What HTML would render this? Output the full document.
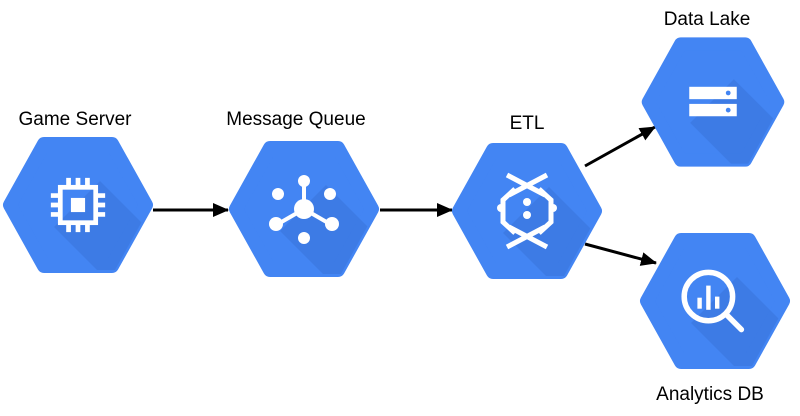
<!DOCTYPE html>
<html><head><style>
html,body{margin:0;padding:0;background:#fff;width:800px;height:416px;overflow:hidden}
text{font-family:"Liberation Sans",Arial,sans-serif;font-size:19px;fill:#000}
</style></head><body>
<svg width="800" height="416" viewBox="0 0 800 416" xmlns="http://www.w3.org/2000/svg">
<defs>
<clipPath id="hx"><polygon points="-73,0 -37,-65 37,-65 73,0 37,65 -37,65"/></clipPath>
<g id="hex">
<polygon points="-68,0 -34,-61 34,-61 68,0 34,61 -34,61" fill="#4385f3" stroke="#4385f3" stroke-width="14" stroke-linejoin="round"/>
</g>
<g id="sh"><polygon clip-path="url(#hx)" points="22,-24 120,74 74,120 -24,22" fill="#1a3a8a" opacity="0.13"/></g>
<marker id="ar" markerWidth="16" markerHeight="14" refX="15" refY="7" orient="auto" markerUnits="userSpaceOnUse" viewBox="0 0 16 14"><path d="M0,0 L16,7 L0,14 z" fill="#000"/></marker>
</defs>

<g stroke="#000" stroke-width="3" fill="none">
<line x1="153" y1="210" x2="228" y2="210" marker-end="url(#ar)"/>
<line x1="380" y1="210" x2="452" y2="210" marker-end="url(#ar)"/>
<line x1="585" y1="166" x2="655" y2="127" marker-end="url(#ar)"/>
<line x1="585" y1="244" x2="656" y2="263" marker-end="url(#ar)"/>
</g>

<!-- Game Server -->
<g transform="translate(78,205)">
<use href="#hex"/><use href="#sh"/>
<g transform="scale(1.18)">
<g fill="none" stroke="#fff" stroke-width="4">
<rect x="-15" y="-15" width="30" height="30"/>
<path d="M-8,-15v-8M0,-15v-8M8,-15v-8M-8,15v8M0,15v8M8,15v8M-15,-8h-8M-15,0h-8M-15,8h-8M15,-8h8M15,0h8M15,8h8"/>
</g>
<rect x="-6" y="-6" width="12" height="12" fill="#fff"/>
</g>
</g>

<!-- Message Queue -->
<g transform="translate(304,209)" fill="#fff">
<use href="#hex"/><use href="#sh"/>
<g stroke="#fff" stroke-width="4"><line x1="0" y1="0" x2="0" y2="-26"/><line x1="0" y1="0" x2="-26" y2="15"/><line x1="0" y1="0" x2="26" y2="15"/></g>
<circle r="10"/><circle cy="-28" r="6"/><circle cx="-26" cy="-15" r="6"/><circle cx="26" cy="-15" r="6"/><circle cx="-28" cy="15" r="7"/><circle cx="28" cy="15" r="7"/><circle cy="29" r="6"/>
</g>

<!-- ETL -->
<g transform="translate(527,211)" fill="#fff">
<use href="#hex"/><use href="#sh"/>
<g stroke="#fff" stroke-width="5" fill="none">
<path d="M-20,-36 L18,-16 M20,-36 L-18,-16 M-20,36 L18,16 M20,36 L-18,16"/>
<path d="M-12,-22 L-24,-11 V11 L-12,22 M12,-22 L24,-11 V11 L12,22"/>
</g>
<circle cx="0" cy="-9" r="4"/><circle cx="0" cy="4" r="4"/><circle cx="-26" cy="-3" r="4"/><circle cx="26" cy="-3" r="4"/>
</g>

<!-- Data Lake -->
<g transform="translate(713,102) scale(0.95)">
<use href="#hex"/><use href="#sh"/>
<rect x="-25" y="-16" width="50" height="13" fill="#fff"/>
<rect x="-25" y="2" width="50" height="13" fill="#fff"/>
<circle cx="16" cy="-9.5" r="2.5" fill="#4385f3"/><circle cx="16" cy="8.5" r="2.5" fill="#4385f3"/>
</g>

<!-- Analytics DB -->
<g transform="translate(715,301)">
<use href="#hex"/><use href="#sh"/>
<g transform="scale(1.1)">
<circle cx="-6" cy="-4" r="22" fill="none" stroke="#fff" stroke-width="5"/>
<line x1="10" y1="12" x2="24" y2="26" stroke="#fff" stroke-width="5" stroke-linecap="round"/>
<rect x="-16" y="-3" width="4" height="10" fill="#fff"/><rect x="-8" y="-14" width="4" height="22" fill="#fff"/><rect x="0" y="-4" width="4" height="11" fill="#fff"/>
</g>
</g>

<text x="75" y="125" text-anchor="middle">Game Server</text>
<text x="296" y="125" text-anchor="middle">Message Queue</text>
<text x="527" y="129" text-anchor="middle">ETL</text>
<text x="707" y="25" text-anchor="middle">Data Lake</text>
<text x="710" y="400" text-anchor="middle">Analytics DB</text>
</svg>
</body></html>
